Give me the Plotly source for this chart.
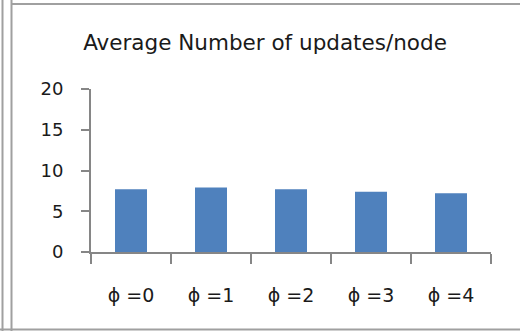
import plotly.graph_objects as go

# Average number of updates per node for each phi setting
categories = ["ϕ =0", "ϕ =1", "ϕ =2", "ϕ =3", "ϕ =4"]
avg_updates = [7.7, 7.9, 7.7, 7.4, 7.2]
y_ticks = [0, 5, 10, 15, 20]

W, H = 520, 331
L, R, T, B = 91, 29, 89, 79
pw, ph = W - L - R, H - T - B


def px(x):
    return (x - L) / pw


def py(y):
    return (H - B - y) / ph


font_family = "'DejaVu Sans', sans-serif"
axis_col = "#868686"
frame_col = "#a0a0a0"
text_col = "#1a1a1a"

fig = go.Figure(
    go.Bar(
        x=categories,
        y=avg_updates,
        marker=dict(color="#4F81BD", line=dict(width=0)),
        width=0.4,
    )
)

shapes = []
# outer frame lines
for x0 in (2.5, 11.5):
    shapes.append(dict(type="line", xref="paper", yref="paper",
                       x0=px(x0), x1=px(x0), y0=py(0), y1=py(H),
                       line=dict(color=frame_col, width=2)))
shapes.append(dict(type="line", xref="paper", yref="paper",
                   x0=px(11), x1=px(W), y0=py(4), y1=py(4),
                   line=dict(color=frame_col, width=2)))
shapes.append(dict(type="line", xref="paper", yref="paper",
                   x0=px(0), x1=px(W), y0=py(329.5), y1=py(329.5),
                   line=dict(color=frame_col, width=2)))

fig.update_layout(
    width=W,
    height=H,
    margin=dict(l=L, r=R, t=T, b=B),
    paper_bgcolor="white",
    plot_bgcolor="white",
    showlegend=False,
    shapes=shapes,
    title=dict(
        text="Average Number of updates/node",
        x=265 / W, xref="container", xanchor="center",
        y=1 - 42 / H, yref="container", yanchor="middle",
        font=dict(family=font_family, size=21.5, color=text_col),
    ),
    bargap=0.6,
    font=dict(family=font_family, size=18, color=text_col),
)

fig.update_xaxes(
    showline=True, linecolor=axis_col, linewidth=2,
    ticks="outside", ticklen=10, tickcolor=axis_col, tickwidth=2,
    tickson="boundaries", showgrid=False, zeroline=False,
    ticklabelstandoff=25,
    tickfont=dict(size=19, color=text_col),
)
fig.update_yaxes(
    range=[0, 20], tickvals=y_ticks,
    showline=True, linecolor=axis_col, linewidth=2,
    ticks="outside", ticklen=8, tickcolor=axis_col, tickwidth=2,
    showgrid=False, zeroline=False,
    ticklabelstandoff=14,
    tickfont=dict(size=18, color=text_col),
)

fig.write_html("out.html")
